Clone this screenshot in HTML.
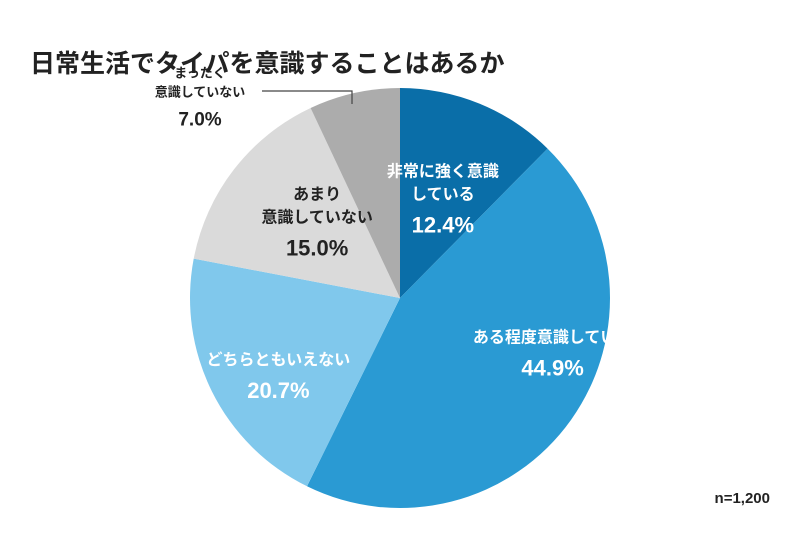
<!DOCTYPE html>
<html><head><meta charset="utf-8"><style>
body{margin:0;background:#fff;}
svg text{font-family:"Liberation Sans","Noto Sans CJK JP",sans-serif;font-weight:bold;}
</style></head><body>
<svg id="chart" width="800" height="550" viewBox="0 0 800 550" xmlns="http://www.w3.org/2000/svg">
<rect width="800" height="550" fill="#fff"/>
<text x="30" y="72" font-size="25" fill="#222">日常生活でタイパを意識することはあるか</text>
<g id="slices"></g>
<g id="labels"></g>
<polyline points="262,91 352,91 352,104" fill="none" stroke="#444" stroke-width="1.2"/>
<text x="770" y="503" font-size="15" fill="#222" text-anchor="end">n=1,200</text>
</svg>
<script>
const categories = ["非常に強く意識している","ある程度意識している","どちらともいえない","あまり意識していない","まったく意識していない"];
const values = [12.4, 44.9, 20.7, 15.0, 7.0];
const colors = ["#0a6ea8","#2a9ad3","#80c8ec","#dadada","#acacac"];
const labelLines = [["非常に強く意識","している"],["ある程度意識している"],["どちらともいえない"],["あまり","意識していない"],["まったく","意識していない"]];
const labelColors = ["#fff","#fff","#fff","#222","#222"];
const ns="http://www.w3.org/2000/svg";
const cx=400, cy=298, r=210;
const total=values.reduce((a,b)=>a+b,0);
const slicesG=document.getElementById('slices'), labelsG=document.getElementById('labels');
function pt(a,rad){return [cx+rad*Math.sin(a), cy-rad*Math.cos(a)];}
// label placement: [radius factor, angle offset handled via mid angle] except last placed outside
const labelPos=[[0.6],[0.6],[0.7],[0.65],[null]];
let acc=0;
values.forEach((v,i)=>{
  const a0=acc/total*2*Math.PI; acc+=v; const a1=acc/total*2*Math.PI;
  const [x0,y0]=pt(a0,r),[x1,y1]=pt(a1,r);
  const p=document.createElementNS(ns,'path');
  p.setAttribute('d',`M${cx},${cy} L${x0},${y0} A${r},${r} 0 ${a1-a0>Math.PI?1:0} 1 ${x1},${y1} Z`);
  p.setAttribute('fill',colors[i]);
  
  
  slicesG.appendChild(p);
  const mid=(a0+a1)/2;
  let lx,ly,small=false;
  if(i===4){lx=200;ly=95;small=true;}
  else {[lx,ly]=pt(mid,r*labelPos[i][0]); if(i===0){lx-=5;ly+=15;} if(i===1){lx+=50;ly-=20;} if(i===2){lx+=10;ly+=10;} if(i===3){lx+=25;ly+=5;}}
  const lines=labelLines[i];
  const fs=small?13:16, pfs=small?19:22, lh=small?19:23;
  const g=document.createElementNS(ns,'g');
  
  
  const h=lines.length*lh+pfs+4; let y=ly-h/2+fs;
  lines.forEach(l=>{const t=document.createElementNS(ns,'text');t.setAttribute('x',lx);t.setAttribute('y',y);t.setAttribute('text-anchor','middle');t.setAttribute('font-size',fs);t.setAttribute('fill',labelColors[i]);t.textContent=l;g.appendChild(t);y+=lh;});
  const t=document.createElementNS(ns,'text');t.setAttribute('x',lx);t.setAttribute('y',y+pfs-fs+4);t.setAttribute('text-anchor','middle');t.setAttribute('font-size',pfs);t.setAttribute('fill',labelColors[i]);t.textContent=v.toFixed(1)+'%';g.appendChild(t);
  labelsG.appendChild(g);
});
</script>
</body></html>
